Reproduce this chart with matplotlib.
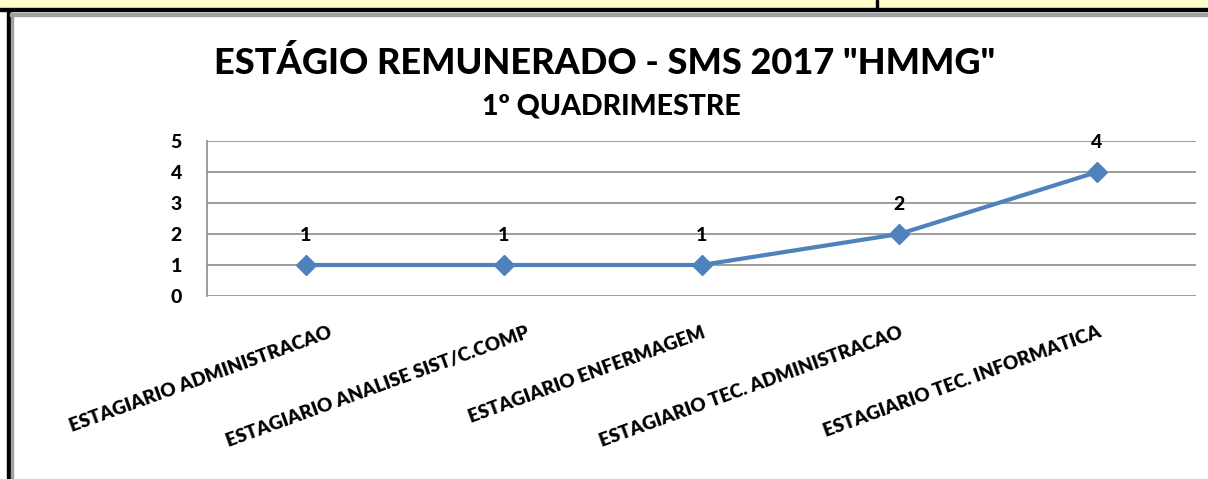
import matplotlib.pyplot as plt
from matplotlib.patches import Rectangle
from matplotlib.transforms import ScaledTranslation

categories = [
    "ESTAGIARIO ADMINISTRACAO",
    "ESTAGIARIO ANALISE SIST/C.COMP",
    "ESTAGIARIO ENFERMAGEM",
    "ESTAGIARIO TEC. ADMINISTRACAO",
    "ESTAGIARIO TEC. INFORMATICA",
]
values = [1, 1, 1, 2, 4]
y_ticks = [0, 1, 2, 3, 4, 5]

plt.rcParams["font.family"] = ["Lato", "DejaVu Sans"]
W, H = 1208, 479
fig = plt.figure(figsize=(W / 100, H / 100), dpi=100)

# spreadsheet remnants: yellow total row and chart frame
def px_rect(x0, y0, x1, y1, color):
    fig.patches.append(Rectangle((x0 / W, 1 - y1 / H), (x1 - x0) / W, (y1 - y0) / H,
                                 transform=fig.transFigure, color=color, zorder=0))

px_rect(0, 0, W, 8, "#ffffcc")
px_rect(0, 8, W, 11, "black")
px_rect(876, 0, 878, 8, "black")
px_rect(7, 10, 10, H, "black")
px_rect(10, 13, W, 16, "#a0a0a0")
px_rect(11, 13, 13, H, "#a0a0a0")

ax = fig.add_axes([207 / W, 1 - 296 / H, (1196 - 207) / W, (296 - 141) / H])
x = list(range(len(categories)))
ax.plot(x, values, color="#4f81bd", linewidth=3, marker="D", markersize=10, zorder=3,
        clip_on=False)
for xi, v in zip(x, values):
    ax.annotate(str(v), (xi, v), xytext=(0, 15), textcoords="offset points",
                ha="center", va="bottom", fontsize=14, fontweight="black")

ax.set_xlim(-0.5, len(categories) - 0.5)
ax.set_ylim(0, 5)
ax.set_yticks(y_ticks)
ax.set_yticklabels([str(t) for t in y_ticks], fontsize=14, fontweight="black")
ax.yaxis.grid(True, color="#8c8c8c", linewidth=1.2)
ax.set_axisbelow(True)
ax.tick_params(axis="y", length=0, pad=18)
ax.tick_params(axis="x", length=0, pad=20)
ax.set_xticks(x)
ax.set_xticklabels(categories, rotation=20, ha="right", va="top",
                   rotation_mode="anchor", fontsize=13.5, fontweight="heavy")
# excel pushes the first two labels a bit further right
for lbl, dx in zip(ax.get_xticklabels(), [22, 22, 0, 0, 0]):
    shift = ScaledTranslation(dx / 100, 0, fig.dpi_scale_trans)
    lbl.set_transform(lbl.get_transform() + shift)
for s in ["top", "right", "bottom"]:
    ax.spines[s].set_visible(False)
ax.spines["left"].set_color("#8c8c8c")
ax.spines["left"].set_linewidth(1.2)

fig.text(605 / W, 1 - 63 / H, 'ESTÁGIO REMUNERADO - SMS 2017 "HMMG"', ha="center", va="center",
         fontsize=26, fontweight="black")
fig.text(611 / W, 1 - 106 / H, "1º QUADRIMESTRE", ha="center", va="center",
         fontsize=20.5, fontweight="black")

fig.savefig("out.png", dpi=100)
